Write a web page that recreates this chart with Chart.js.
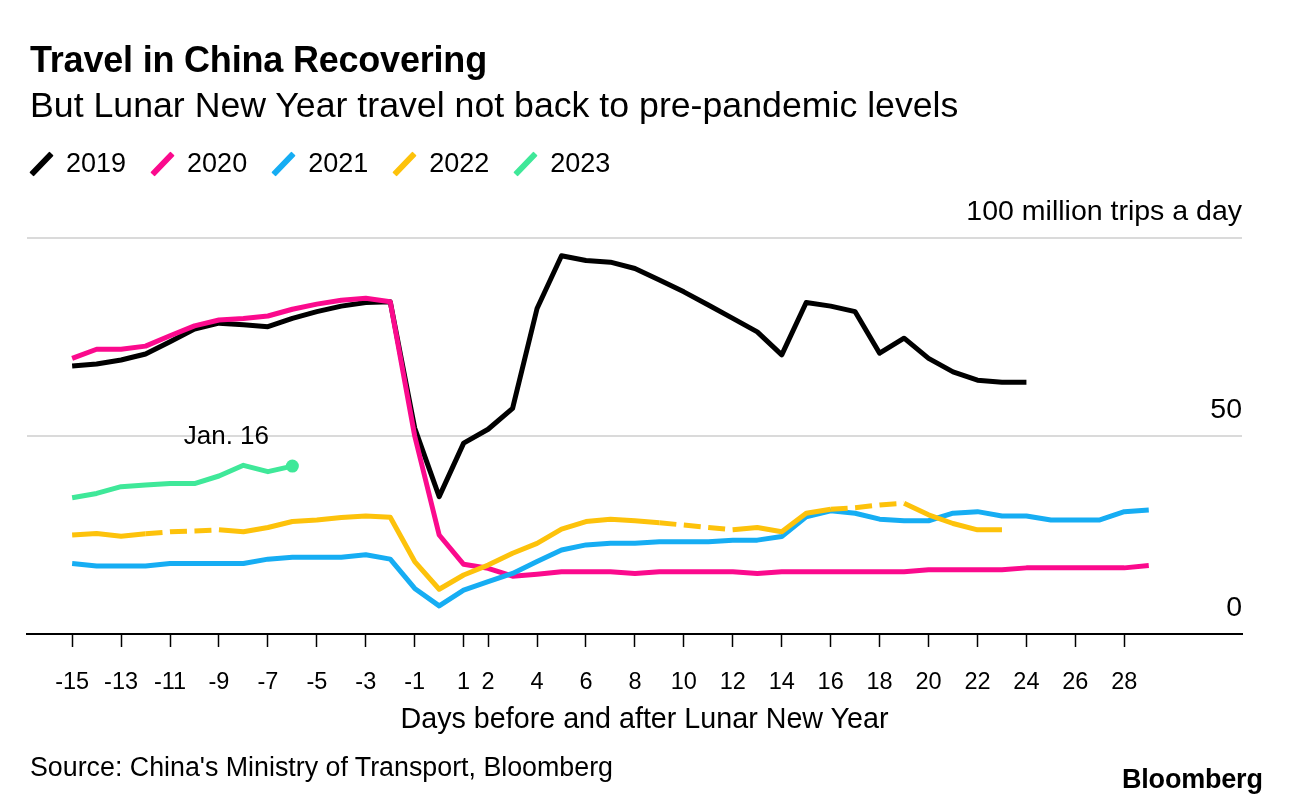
<!DOCTYPE html>
<html>
<head>
<meta charset="utf-8">
<script src="https://cdn.jsdelivr.net/npm/chart.js@4.4.0/dist/chart.umd.min.js"></script>
<style>
  html, body { margin:0; padding:0; background:#fff; }
  body { width:1289px; height:806px; position:relative; overflow:hidden; font-family:"Liberation Sans", Arial, sans-serif; color:#000; }
  #c { position:absolute; left:0; top:0; }
  .t { position:absolute; white-space:nowrap; }
  #title { left:30px; top:42px; font-size:36px; line-height:36px; font-weight:bold; letter-spacing:-0.2px; }
  #subtitle { left:30px; top:87px; font-size:35.7px; line-height:36px; }
  #legend { position:absolute; left:30px; top:150px; height:27px; display:flex; align-items:center; font-size:27px; line-height:27px; }
  .item { display:flex; align-items:center; margin-right:25px; }
  .icon { width:24px; height:27px; position:relative; margin-right:12px; }
  .icon span { position:absolute; left:-3px; top:10.5px; width:29px; height:6px; transform:rotate(-46deg); border-radius:1px; }
  #xtitle { left:0; width:1289px; text-align:center; top:704px; font-size:28.7px; line-height:29px; }
  #source { left:30px; top:754px; font-size:26.8px; line-height:27px; }
  #logo { left:1122px; top:766px; font-size:27px; line-height:27px; font-weight:bold; letter-spacing:-0.2px; }
</style>
</head>
<body>
<canvas id="c" width="1289" height="806"></canvas>
<div class="t" id="title">Travel in China Recovering</div>
<div class="t" id="subtitle">But Lunar New Year travel not back to pre-pandemic levels</div>
<div id="legend"></div>
<div class="t" id="xtitle"><span id="xtitleText"></span></div>
<div class="t" id="source">Source: China's Ministry of Transport, Bloomberg</div>
<div class="t" id="logo">Bloomberg</div>
<script>
// ---- Data ----
const days = [-15,-14,-13,-12,-11,-10,-9,-8,-7,-6,-5,-4,-3,-2,-1,0,1,2,3,4,5,6,7,8,9,10,11,12,13,14,15,16,17,18,19,20,21,22,23,24,25,26,27,28,29];
const tickDays = [-15,-13,-11,-9,-7,-5,-3,-1,1,2,4,6,8,10,12,14,16,18,20,22,24,26,28];
const yTicks = [0, 50, 100];
const seriesNames = ['2019','2020','2021','2022','2023'];
const seriesColors = ['#000000','#fb0a8d','#16adf3','#fdc20b','#3fe899'];

const y2019 = [67.7,68.2,69.2,70.7,73.8,77.0,78.5,78.1,77.6,79.7,81.4,82.8,83.7,83.9,52.0,34.7,48.2,51.7,57.0,82.2,95.5,94.3,93.9,92.3,89.4,86.4,83.1,79.7,76.3,70.5,83.7,82.8,81.4,70.9,74.7,69.6,66.2,64.1,63.6,63.6,null,null,null,null,null];
const y2020 = [69.6,71.9,71.9,72.7,75.3,77.8,79.3,79.7,80.3,82.0,83.3,84.3,84.8,83.9,50.0,25.0,17.6,16.6,14.6,15.1,15.7,15.7,15.7,15.3,15.7,15.7,15.7,15.7,15.3,15.7,15.7,15.7,15.7,15.7,15.7,16.2,16.2,16.2,16.2,16.7,16.7,16.7,16.7,16.7,17.3];
const y2021 = [17.8,17.2,17.2,17.2,17.8,17.8,17.8,17.8,18.9,19.4,19.4,19.4,20.0,18.9,11.5,7.1,11.1,13.2,15.3,18.3,21.2,22.5,22.9,22.9,23.3,23.3,23.3,23.7,23.7,24.6,29.6,31.1,30.5,29.0,28.6,28.6,30.5,30.9,29.8,29.8,28.8,28.8,28.8,30.9,31.3];
const y2022 = [25.0,25.4,24.7,25.3,25.8,26.0,26.3,25.8,26.9,28.4,28.8,29.4,29.8,29.5,18.3,11.3,14.9,17.4,20.4,22.9,26.5,28.4,29.0,28.6,28.1,27.5,26.9,26.3,26.9,25.8,30.5,31.5,31.9,32.6,33.0,30.1,27.9,26.3,26.3,null,null,null,null,null,null];
const y2023 = [34.4,35.5,37.2,37.6,38.0,38.0,39.9,42.6,41.0,42.4,null,null,null,null,null,null,null,null,null,null,null,null,null,null,null,null,null,null,null,null,null,null,null,null,null,null,null,null,null,null,null,null,null,null,null];
// 2022 gaps drawn dashed (start day of each dashed stretch, end day)
const dashed2022 = [[-12,-9],[9,12],[16,19]];
const annotationText = 'Jan. 16';
const yUnitLabel = '100 million trips a day';
const xAxisTitle = 'Days before and after Lunar New Year';

document.getElementById('xtitleText').textContent = xAxisTitle;

// ---- Legend (HTML) ----
const lg = document.getElementById('legend');
seriesNames.forEach((n,i) => {
  const it = document.createElement('div'); it.className='item';
  const ic = document.createElement('div'); ic.className='icon';
  const s = document.createElement('span'); s.style.background = seriesColors[i]; ic.appendChild(s);
  const tx = document.createElement('span'); tx.textContent = n;
  it.appendChild(ic); it.appendChild(tx); lg.appendChild(it);
});

const FONT = '"Liberation Sans", Arial, sans-serif';
Chart.defaults.font.family = FONT;
Chart.defaults.color = '#000';

const allY = [y2019, y2020, y2021, y2022, y2023];
function pts(arr){ return days.map((d,i)=>({x:d, y:arr[i]})); }

const datasets = allY.map((arr,i) => {
  const ds = {
    label: seriesNames[i],
    data: pts(arr),
    borderColor: seriesColors[i],
    backgroundColor: seriesColors[i],
    borderWidth: 5,
    borderJoinStyle: 'round',
    pointRadius: 0,
    pointHoverRadius: 0,
    spanGaps: false,
    tension: 0,
    order: [4,3,2,1,0][i]
  };
  if (i === 3) {
    ds.segment = {
      borderDash: ctx => {
        const x0 = ctx.p0.parsed.x;
        return dashed2022.some(r => x0 >= r[0] && x0 < r[1]) ? [17, 7.5] : undefined;
      }
    };
  }
  if (i === 4) {
    let last = 0; arr.forEach((v,k)=>{ if (v!==null) last = k; });
    ds.pointRadius = ctx => ctx.dataIndex === last ? 6.5 : 0;
    ds.pointBorderWidth = 0;
    ds._lastIndex = last;
  }
  return ds;
});

const annot = {
  id: 'annot',
  afterDatasetsDraw(chart) {
    const idx = 4;
    const meta = chart.getDatasetMeta(idx);
    const li = chart.data.datasets[idx]._lastIndex;
    const p = meta.data[li];
    const ctx = chart.ctx;
    ctx.save();
    ctx.font = '26px ' + FONT;
    ctx.fillStyle = '#000';
    ctx.textAlign = 'center';
    ctx.textBaseline = 'middle';
    ctx.fillText(annotationText, p.x - 66, p.y - 29);
    ctx.restore();
  }
};

new Chart(document.getElementById('c'), {
  type: 'line',
  data: { datasets },
  options: {
    responsive: false,
    animation: false,
    events: [],
    layout: { padding: { left: 27, right: 47, top: 238, bottom: 62 } },
    plugins: { legend: { display: false }, tooltip: { enabled: false } },
    scales: {
      x: {
        type: 'linear',
        min: -16.845,
        max: 32.81,
        afterBuildTicks: s => { s.ticks = tickDays.map(v => ({ value: v })); },
        afterFit: s => { s.height = 110; },
        grid: { drawOnChartArea: false, drawTicks: true, tickLength: 13, tickColor: '#000', tickWidth: 1.5 },
        border: { display: true, color: '#000', width: 2 },
        ticks: { autoSkip: false, maxRotation: 0, padding: 21, font: { size: 23.5 }, color: '#000',
                 callback: v => String(v) },
        title: { display: false }
      },
      y: {
        position: 'right',
        min: 0,
        max: 100,
        afterBuildTicks: s => { s.ticks = yTicks.map(v => ({ value: v })); },
        afterFit: s => { s.width = 0; },
        grid: { drawTicks: false, color: '#dadada', lineWidth: 2 },
        border: { display: false },
        ticks: { mirror: true, padding: 0, labelOffset: -26, font: { size: 28.5 }, color: '#000',
                 callback: v => v === 100 ? yUnitLabel : String(v) }
      }
    }
  },
  plugins: [annot]
});
</script>
</body>
</html>
